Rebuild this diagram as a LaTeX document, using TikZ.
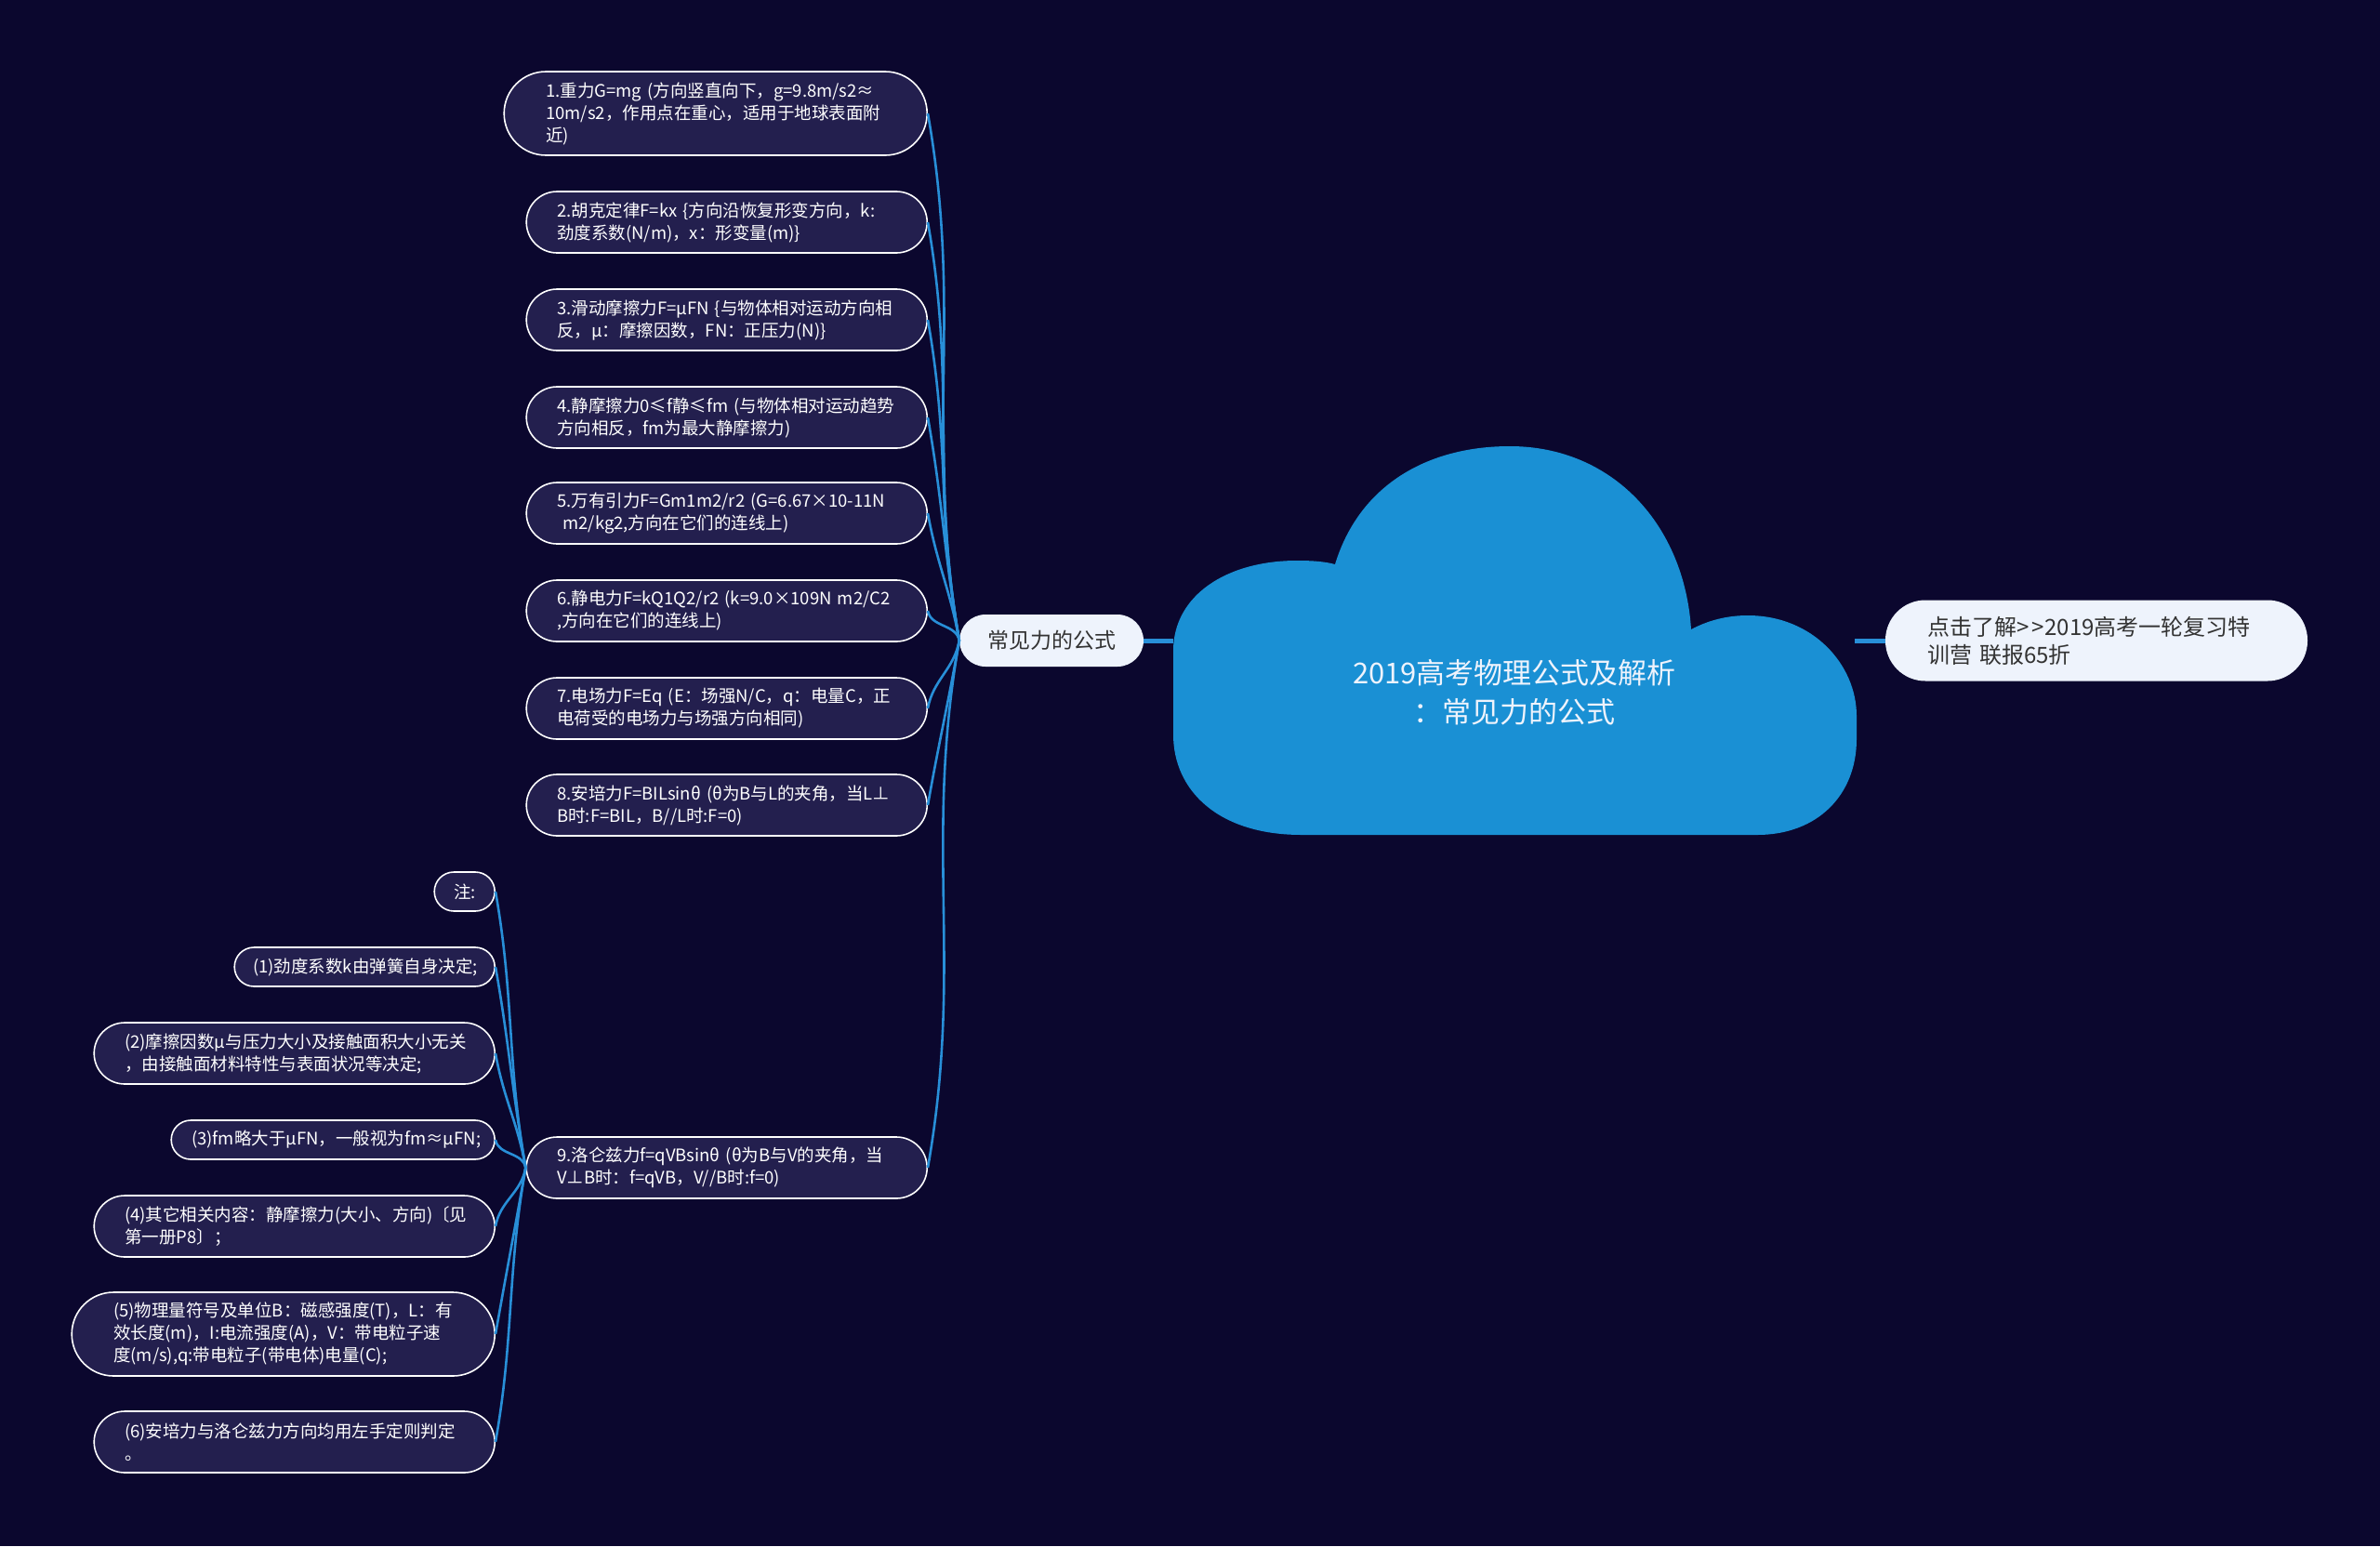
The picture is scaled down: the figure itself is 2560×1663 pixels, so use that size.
\documentclass[tikz,border=0pt]{standalone}
\usepackage{fontspec}
\setmainfont{Noto Sans CJK SC}
\definecolor{bg}{RGB}{11,7,46}
\definecolor{leaffill}{RGB}{35,31,78}
\definecolor{lineblue}{RGB}{40,143,216}
\definecolor{cloudblue}{RGB}{26,144,212}
\definecolor{pale}{RGB}{238,243,252}
\definecolor{darktext}{RGB}{51,51,51}
\begin{document}
\begin{tikzpicture}[x=1pt,y=1pt,
  leaf/.style={rectangle, draw=white, line width=1.6pt, fill=leaffill, text=white,
    font=\fontsize{18.5}{24}\selectfont, align=left, inner ysep=0pt, anchor=east},
  twoline/.style={text width=365pt, inner xsep=33pt, minimum height=66pt, rounded corners=33pt},
  threeline/.style={text width=365pt, inner xsep=45pt, minimum height=90pt, rounded corners=45pt},
  oneline/.style={minimum height=42pt, rounded corners=21pt},
  conn/.style={draw=lineblue, line width=2.6pt},
  mainconn/.style={draw=lineblue, line width=5pt},
  fromabove/.style={out=-80,in=100},
  frombelow/.style={out=80,in=-100},
  hubnode/.style={rectangle, fill=pale, text=darktext, font=\fontsize{23}{28}\selectfont,
    minimum width=198pt, minimum height=56pt, rounded corners=28pt, inner sep=0pt},
  rightnode/.style={rectangle, fill=pale, text=darktext, font=\fontsize{24}{30}\selectfont,
    align=left, text width=364pt, inner xsep=45pt, inner ysep=0pt, minimum height=87pt, rounded corners=43pt},
  titlenode/.style={align=center, text=pale, font=\fontsize{31}{42}\selectfont}
]
\useasboundingbox (0,0) rectangle (2560,-1663);
\fill[bg] (0,0) rectangle (2560,-1663);

% cloud
\fill[cloudblue] (1400,-898) .. controls (1310,-898) and (1262,-850) .. (1262,-790)
  -- (1262,-700)
  .. controls (1262,-640) and (1320,-603) .. (1395,-603)
  .. controls (1412,-603) and (1425,-604) .. (1436,-607)
  .. controls (1462,-522) and (1535,-480) .. (1624,-480)
  .. controls (1735,-480) and (1812,-565) .. (1819,-677)
  .. controls (1838,-667) and (1858,-662) .. (1880,-662)
  .. controls (1950,-662) and (1997,-715) .. (1997,-770)
  -- (1997,-795)
  .. controls (1997,-855) and (1955,-898) .. (1890,-898)
  -- cycle;
\coordinate (cL) at (1262,-689);
\coordinate (cR) at (1995,-689);
\node[titlenode] (T) at (1629,-745) {2019高考物理公式及解析\\：常见力的公式};

% hub and right node
\node[hubnode] (hub) at (1131,-689) {常见力的公式};
\node[rightnode] (R) at (2255,-689) {\mbox{点击了解>\kern3pt>\kern1pt2019高考一轮复习特}\\\mbox{训营 联报65折}};

% right-column leaves
\node[leaf,threeline] (L1) at (998,-122) {\mbox{1.重力G=mg (方向竖直向下，g=9.8m/s2≈}\\\mbox{10m/s2，作用点在重心，适用于地球表面附}\\\mbox{近)}};
\node[leaf,twoline] (L2) at (998,-239) {\mbox{2.胡克定律F=kx \{方向沿恢复形变方向，k:}\\\mbox{劲度系数(N/m)，x：形变量(m)\}}};
\node[leaf,twoline] (L3) at (998,-344) {\mbox{3.滑动摩擦力F=μFN \{与物体相对运动方向相}\\\mbox{反，μ：摩擦因数，FN：正压力(N)\}}};
\node[leaf,twoline] (L4) at (998,-449) {\mbox{4.静摩擦力0≤f静≤fm (与物体相对运动趋势}\\\mbox{方向相反，fm为最大静摩擦力)}};
\node[leaf,twoline] (L5) at (998,-552) {\mbox{5.万有引力F=Gm1m2/r2 (G=6.67×10-11N}\\\mbox{~m2/kg2,方向在它们的连线上)}};
\node[leaf,twoline] (L6) at (998,-657) {\mbox{6.静电力F=kQ1Q2/r2 (k=9.0×109N m2/C2}\\\mbox{,方向在它们的连线上)}};
\node[leaf,twoline] (L7) at (998,-762) {\mbox{7.电场力F=Eq (E：场强N/C，q：电量C，正}\\\mbox{电荷受的电场力与场强方向相同)}};
\node[leaf,twoline] (L8) at (998,-866) {\mbox{8.安培力F=BILsinθ (θ为B与L的夹角，当L⊥}\\\mbox{B时:F=BIL，B//L时:F=0)}};
\node[leaf,twoline] (L9) at (998,-1256) {\mbox{9.洛仑兹力f=qVBsinθ (θ为B与V的夹角，当}\\\mbox{V⊥B时：f=qVB，V//B时:f=0)}};

% notes
\node[leaf,oneline,text width=23pt,inner xsep=21pt] (N0) at (533,-959) {\mbox{注:}};
\node[leaf,oneline,text width=240pt,inner xsep=20pt] (N1) at (533,-1040) {\mbox{(1)劲度系数k由弹簧自身决定;}};
\node[leaf,twoline] (N2) at (533,-1133) {\mbox{(2)摩擦因数μ与压力大小及接触面积大小无关}\\\mbox{，由接触面材料特性与表面状况等决定;}};
\node[leaf,oneline,text width=304pt,inner xsep=22pt] (N3) at (533,-1226) {\mbox{(3)fm略大于μFN，一般视为fm≈μFN;}};
\node[leaf,twoline] (N4) at (533,-1319) {\mbox{(4)其它相关内容：静摩擦力(大小、方向)〔见}\\\mbox{第一册P8〕；}};
\node[leaf,threeline] (N5) at (533,-1435) {\mbox{(5)物理量符号及单位B：磁感强度(T)，L：有}\\\mbox{效长度(m)，I:电流强度(A)，V：带电粒子速}\\\mbox{度(m/s),q:带电粒子(带电体)电量(C);}};
\node[leaf,twoline] (N6) at (533,-1551) {\mbox{(6)安培力与洛仑兹力方向均用左手定则判定}\\\mbox{。}};

% connectors
\draw[mainconn] (hub.east) -- (cL);
\draw[mainconn] (cR) -- (R.west);
\foreach \n in {L1,L2,L3,L4,L5,L6} \draw[conn] (\n.east) to[fromabove] (hub.west);
\foreach \n in {L7,L8,L9} \draw[conn] (\n.east) to[frombelow] (hub.west);
\foreach \n in {N0,N1,N2,N3} \draw[conn] (\n.east) to[fromabove] (L9.west);
\foreach \n in {N4,N5,N6} \draw[conn] (\n.east) to[frombelow] (L9.west);
\end{tikzpicture}
\end{document}
